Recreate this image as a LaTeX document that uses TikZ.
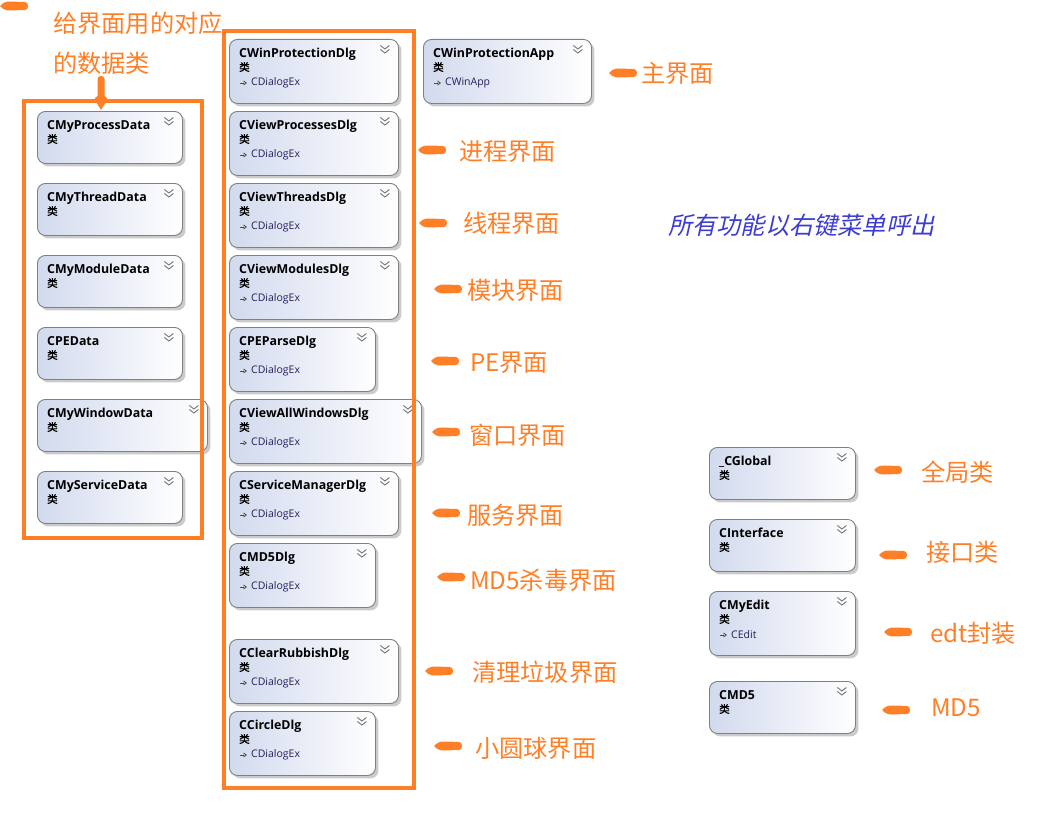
\documentclass[tikz,border=0pt]{standalone}
\usepackage{fontspec}
\setmainfont{Open Sans}
\newfontfamily\cjk{Noto Sans CJK SC}
\newfontfamily\cjkb[FakeBold=2]{Noto Sans CJK SC}
\newfontfamily\cjkit[FakeSlant=0.22]{Noto Sans CJK SC}
\usetikzlibrary{shadows,arrows.meta,calc}
\definecolor{org}{RGB}{255,127,39}
\definecolor{boxl}{RGB}{210,218,238}
\definecolor{boxd}{RGB}{128,128,128}
\definecolor{basec}{RGB}{40,30,90}
\definecolor{bluetxt}{RGB}{60,60,210}
\tikzset{
  cls/.style={draw=boxd, line width=0.9pt, rounded corners=8pt, left color=boxl, right color=white,
    drop shadow={shadow xshift=3pt, shadow yshift=-3pt, fill=black!25, opacity=0.8}, inner sep=0pt},
  ttl/.style={font=\fontsize{12.4}{14}\selectfont\bfseries, inner sep=0pt, text=black},
  kind/.style={font=\cjkb\fontsize{10.5}{11}\selectfont, inner sep=0pt, text=black},
  basetxt/.style={font=\fontsize{10.5}{12}\selectfont, inner sep=0pt, text=basec},
  chev/.style={draw=black!55, line width=0.9pt},
  lbl/.style={font=\cjk\fontsize{24.2}{27}\selectfont, text=org, inner sep=0pt, anchor=west},
  frame/.style={draw=org, line width=4pt},
}
% name, x, y, w, h, title, base
\newcommand\cbox[7]{%
  \node[cls, minimum width=#4pt, minimum height=#5pt, anchor=north west] (#1) at (#2,#3) {};
  \node[ttl, anchor=base west] (#1t) at ($(#1.north west)+(10,18)$) {#6};
  \node[kind, anchor=west] (#1k) at ($(#1.north west)+(10,28)$) {类};
  \coordinate (#1c) at ($(#1.north east)+(-14,9)$);
  \draw[chev] ($(#1c)+(-4.5,-2.5)$) -- ($(#1c)+(0,1)$) -- ($(#1c)+(4.5,-2.5)$);
  \draw[chev] ($(#1c)+(-4.5,1.5)$) -- ($(#1c)+(0,5)$) -- ($(#1c)+(4.5,1.5)$);
  \ifx\relax#7\relax\else
    \coordinate (#1a) at ($(#1.north west)+(11,44)$);
    \draw[black!70, line width=0.7pt, -{Triangle[open,length=3.5pt,width=5pt]}] (#1a) -- ($(#1a)+(7,0)$);
    \node[basetxt, anchor=west] (#1b) at ($(#1a)+(11,0)$) {#7};
  \fi
}
% left-pointing brush arrow, tip at coordinate
\newcommand\blob[1]{%
  \begin{scope}[shift={(#1)}]
    \fill[org] (0,0) .. controls (3,-3.5) and (6,-4.5) .. (10,-4.5) -- (25,-4)
      .. controls (29,-4) and (29,4) .. (25,4) -- (10,4.5) .. controls (6,4.5) and (3,3.5) .. (0,0) -- cycle;
  \end{scope}}
\begin{document}
\begin{tikzpicture}[x=1pt,y=-1pt]
\useasboundingbox[fill=white] (0,0) rectangle (1049,816);

% frames
\draw[frame] (23.5,101) rectangle (201.5,538);
\draw[frame] (223.5,31) rectangle (414,787.5);

% left column
\cbox{pd}{37}{111}{145}{52}{CMyProcessData}{}
\cbox{td}{37}{183}{145}{52}{CMyThreadData}{}
\cbox{md}{37}{255}{145}{52}{CMyModuleData}{}
\cbox{ped}{37}{327}{145}{52}{CPEData}{}
\cbox{wd}{37}{399}{170}{52}{CMyWindowData}{}
\cbox{sd}{37}{471}{145}{52}{CMyServiceData}{}
\draw[org, line width=4pt] (201.5,390) -- (201.5,460);

% middle column
\cbox{wpd}{229}{39}{169}{64}{CWinProtectionDlg}{CDialogEx}
\cbox{vpd}{229}{111}{169}{64}{CViewProcessesDlg}{CDialogEx}
\cbox{vtd}{229}{183}{169}{64}{CViewThreadsDlg}{CDialogEx}
\cbox{vmd}{229}{255}{169}{64}{CViewModulesDlg}{CDialogEx}
\cbox{ppd}{229}{327}{146}{64}{CPEParseDlg}{CDialogEx}
\cbox{vwd}{229}{399}{192}{64}{CViewAllWindowsDlg}{CDialogEx}
\cbox{smd}{229}{471}{169}{64}{CServiceManagerDlg}{CDialogEx}
\cbox{m5d}{229}{543}{146}{64}{CMD5Dlg}{CDialogEx}
\cbox{crd}{229}{639}{169}{64}{CClearRubbishDlg}{CDialogEx}
\cbox{ccd}{229}{711}{146}{64}{CCircleDlg}{CDialogEx}
\draw[org, line width=4pt] (414,390) -- (414,470);

% app
\cbox{app}{423}{39}{168}{64}{CWinProtectionApp}{CWinApp}

% right column
\cbox{glb}{709}{447}{146}{52}{\_CGlobal}{}
\cbox{itf}{709}{519}{146}{52}{CInterface}{}
\cbox{edt}{709}{591}{146}{64}{CMyEdit}{CEdit}
\cbox{cmd}{709}{681}{146}{52}{CMD5}{}

% labels
\node[lbl] (l0a) at (53,23) {给界面用的对应};
\node[lbl] (l0b) at (53,63) {的数据类};
\node[lbl] (l1) at (641,73) {主界面};
\node[lbl] (l2) at (459,152) {进程界面};
\node[lbl] (l3) at (463,223) {线程界面};
\node[lbl] (l4) at (467,290) {模块界面};
\node[lbl] (l5) at (470,363) {PE界面};
\node[lbl] (l6) at (469,435) {窗口界面};
\node[lbl] (l7) at (467,515) {服务界面};
\node[lbl] (l8) at (470,580) {MD5杀毒界面};
\node[lbl] (l9) at (472,672) {清理垃圾界面};
\node[lbl] (l10) at (475,748) {小圆球界面};
\node[lbl] (l11) at (921,472) {全局类};
\node[lbl] (l12) at (926,552) {接口类};
\node[lbl] (l13) at (930,633) {edt封装};
\node[lbl] (l14) at (931,708) {MD5};
\node[font=\cjkit\fontsize{24.2}{27}\selectfont, text=bluetxt, inner sep=0pt, anchor=west] (note) at (668,225) {所有功能以右键菜单呼出};

% brush arrows
\coordinate (a0) at (0,6);
\coordinate (a1) at (609,73);
\coordinate (a2) at (418,150);
\coordinate (a3) at (419,223);
\coordinate (a4) at (434,289);
\coordinate (a5) at (431,361);
\coordinate (a6) at (432,432);
\coordinate (a7) at (432,513);
\coordinate (a8) at (437,577);
\coordinate (a9) at (425,671);
\coordinate (a10) at (434,746);
\coordinate (a11) at (874,470);
\coordinate (a12) at (879,555);
\coordinate (a13) at (884,632);
\coordinate (a14) at (882,710);
\foreach \i in {0,...,14} {\blob{a\i}}

% down arrow into data frame
\coordinate (dn) at (101,110);
\begin{scope}[shift={(dn)}]
  \fill[org] (0,0) .. controls (-2,-4) and (-6,-8) .. (-6,-12) -- (-3.5,-14) -- (-3.5,-31)
    .. controls (-3.5,-35) and (3.5,-35) .. (3.5,-31) -- (3.5,-14) -- (6,-12) .. controls (6,-8) and (2,-4) .. (0,0) -- cycle;
\end{scope}
\end{tikzpicture}
\end{document}
